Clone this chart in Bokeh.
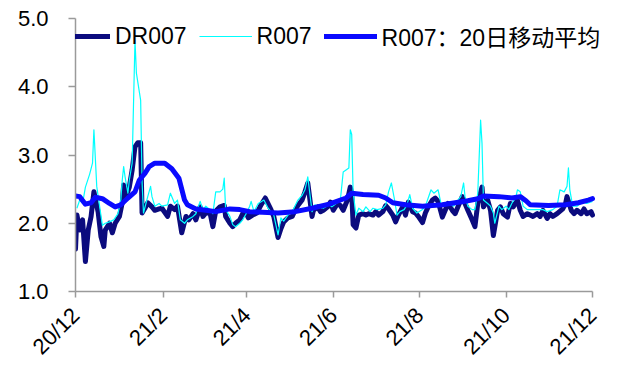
import math
import pandas as pd
from bokeh.plotting import figure
from bokeh.models import (Range1d, FixedTicker, PrintfTickFormatter, Legend,
                          LegendItem)
from bokeh.embed import file_html
from bokeh.resources import INLINE

# DR007 daily rate (%)
dr_dates = [
    "2020-12-01", "2020-12-02", "2020-12-04", "2020-12-06", "2020-12-08", "2020-12-10",
    "2020-12-12", "2020-12-14", "2020-12-17", "2020-12-19", "2020-12-21", "2020-12-22",
    "2020-12-25", "2020-12-27", "2020-12-29", "2021-01-01", "2021-01-03", "2021-01-04",
    "2021-01-05", "2021-01-08", "2021-01-10", "2021-01-12", "2021-01-14", "2021-01-16",
    "2021-01-17", "2021-01-19", "2021-01-21", "2021-01-24", "2021-01-26", "2021-01-29",
    "2021-01-31", "2021-02-04", "2021-02-06", "2021-02-09", "2021-02-11", "2021-02-14",
    "2021-02-17", "2021-02-19", "2021-02-22", "2021-02-24", "2021-02-27", "2021-03-01",
    "2021-03-03", "2021-03-06", "2021-03-08", "2021-03-10", "2021-03-13", "2021-03-16",
    "2021-03-17", "2021-03-20", "2021-03-22", "2021-03-24", "2021-03-27", "2021-03-29",
    "2021-03-31", "2021-04-02", "2021-04-05", "2021-04-08", "2021-04-11", "2021-04-14",
    "2021-04-18", "2021-04-20", "2021-04-23", "2021-04-25", "2021-04-27", "2021-04-30",
    "2021-05-03", "2021-05-05", "2021-05-07", "2021-05-10", "2021-05-12", "2021-05-14",
    "2021-05-17", "2021-05-18", "2021-05-21", "2021-05-23", "2021-05-25", "2021-05-28",
    "2021-05-30", "2021-06-01", "2021-06-04", "2021-06-06", "2021-06-08", "2021-06-11",
    "2021-06-13", "2021-06-14", "2021-06-15", "2021-06-17", "2021-06-19", "2021-06-22",
    "2021-06-24", "2021-06-26", "2021-06-29", "2021-07-01", "2021-07-03", "2021-07-06",
    "2021-07-08", "2021-07-10", "2021-07-13", "2021-07-15", "2021-07-17", "2021-07-20",
    "2021-07-22", "2021-07-24", "2021-07-27", "2021-07-29", "2021-07-31", "2021-08-03",
    "2021-08-05", "2021-08-07", "2021-08-10", "2021-08-12", "2021-08-14", "2021-08-17",
    "2021-08-19", "2021-08-21", "2021-08-24", "2021-08-26", "2021-08-28", "2021-08-31",
    "2021-09-02", "2021-09-04", "2021-09-07", "2021-09-09", "2021-09-11", "2021-09-14",
    "2021-09-15", "2021-09-18", "2021-09-20", "2021-09-22", "2021-09-25", "2021-09-27",
    "2021-09-29", "2021-10-02", "2021-10-04", "2021-10-06", "2021-10-09", "2021-10-11",
    "2021-10-13", "2021-10-16", "2021-10-18", "2021-10-20", "2021-10-23", "2021-10-25",
    "2021-10-27", "2021-10-30", "2021-11-01", "2021-11-03", "2021-11-06", "2021-11-10",
    "2021-11-12", "2021-11-13", "2021-11-16", "2021-11-18", "2021-11-20", "2021-11-23",
    "2021-11-25", "2021-11-27", "2021-11-30", "2021-12-01",
]
dr_vals = [
    1.62, 2.12, 1.90, 2.05, 1.44, 1.90,
    2.10, 2.46, 2.16, 1.80, 1.66, 1.90,
    2.00, 1.86, 2.00, 2.10, 2.30, 2.56,
    2.35, 2.53, 2.78, 3.12, 3.18, 3.18,
    2.15, 2.22, 2.30, 2.24, 2.19, 2.21,
    2.22, 2.10, 2.25, 2.20, 2.25, 1.86,
    2.10, 2.05, 2.14, 2.05, 2.24, 2.10,
    2.15, 2.15, 1.95, 2.18, 2.24, 2.26,
    2.10, 2.00, 1.95, 2.00, 2.05, 2.14,
    2.17, 2.08, 2.12, 2.15, 2.27, 2.37,
    2.20, 2.10, 1.79, 1.92, 2.02, 2.08,
    2.10, 2.19, 2.26, 2.34, 2.46, 2.59,
    2.10, 2.19, 2.24, 2.17, 2.19, 2.24,
    2.31, 2.19, 2.29, 2.26, 2.19, 2.34,
    2.53, 2.45, 1.98, 1.93, 2.12, 2.14,
    2.12, 2.14, 2.12, 2.17, 2.12, 2.17,
    2.26, 2.21, 2.12, 2.02, 2.12, 2.24,
    2.12, 2.31, 2.17, 2.15, 2.10, 2.01,
    2.15, 2.24, 2.34, 2.37, 2.32, 2.09,
    2.19, 2.29, 2.19, 2.14, 2.24, 2.39,
    2.29, 2.19, 2.05, 1.95, 2.29, 2.53,
    2.24, 2.34, 2.19, 1.82, 2.19, 2.24,
    2.14, 2.09, 2.29, 2.24, 2.34, 2.19,
    2.10, 2.14, 2.12, 2.10, 2.14, 2.10,
    2.19, 2.07, 2.14, 2.10, 2.14, 2.21,
    2.29, 2.39, 2.19, 2.14, 2.19, 2.14,
    2.21, 2.14, 2.17, 2.12,
]

# R007 daily rate (%)
r_dates = [
    "2020-12-02", "2020-12-04", "2020-12-06", "2020-12-08", "2020-12-11", "2020-12-13",
    "2020-12-14", "2020-12-16", "2020-12-18", "2020-12-20", "2020-12-22", "2020-12-25",
    "2020-12-28", "2020-12-31", "2021-01-02", "2021-01-03", "2021-01-04", "2021-01-05",
    "2021-01-07", "2021-01-08", "2021-01-10", "2021-01-12", "2021-01-13", "2021-01-16",
    "2021-01-17", "2021-01-18", "2021-01-21", "2021-01-23", "2021-01-24", "2021-01-26",
    "2021-01-29", "2021-01-31", "2021-02-04", "2021-02-06", "2021-02-09", "2021-02-11",
    "2021-02-13", "2021-02-16", "2021-02-18", "2021-02-22", "2021-02-24", "2021-02-27",
    "2021-03-01", "2021-03-03", "2021-03-06", "2021-03-08", "2021-03-10", "2021-03-13",
    "2021-03-15", "2021-03-16", "2021-03-17", "2021-03-20", "2021-03-22", "2021-03-24",
    "2021-03-27", "2021-03-29", "2021-03-31", "2021-04-03", "2021-04-04", "2021-04-06",
    "2021-04-09", "2021-04-13", "2021-04-16", "2021-04-20", "2021-04-23", "2021-04-25",
    "2021-04-27", "2021-04-30", "2021-05-03", "2021-05-07", "2021-05-10", "2021-05-12",
    "2021-05-14", "2021-05-17", "2021-05-19", "2021-05-22", "2021-05-25", "2021-05-29",
    "2021-05-31", "2021-06-03", "2021-06-06", "2021-06-08", "2021-06-10", "2021-06-12",
    "2021-06-13", "2021-06-14", "2021-06-15", "2021-06-17", "2021-06-19", "2021-06-22",
    "2021-06-24", "2021-06-27", "2021-06-29", "2021-07-02", "2021-07-06", "2021-07-08",
    "2021-07-10", "2021-07-12", "2021-07-14", "2021-07-16", "2021-07-18", "2021-07-21",
    "2021-07-23", "2021-07-25", "2021-07-27", "2021-07-30", "2021-08-03", "2021-08-05",
    "2021-08-09", "2021-08-11", "2021-08-14", "2021-08-16", "2021-08-18", "2021-08-21",
    "2021-08-25", "2021-08-28", "2021-08-30", "2021-09-01", "2021-09-02", "2021-09-04",
    "2021-09-07", "2021-09-09", "2021-09-11", "2021-09-13", "2021-09-14", "2021-09-15",
    "2021-09-18", "2021-09-20", "2021-09-22", "2021-09-23", "2021-09-26", "2021-09-28",
    "2021-10-01", "2021-10-03", "2021-10-05", "2021-10-08", "2021-10-09", "2021-10-11",
    "2021-10-13", "2021-10-16", "2021-10-22", "2021-10-27", "2021-10-30", "2021-11-03",
    "2021-11-06", "2021-11-08", "2021-11-11", "2021-11-13", "2021-11-14", "2021-11-15",
    "2021-11-17", "2021-11-20", "2021-11-24", "2021-11-27", "2021-12-01",
]
r_vals = [
    2.22, 2.34, 2.29, 2.53, 2.72, 2.88,
    3.37, 2.54, 2.25, 1.97, 2.00, 2.02,
    2.05, 2.14, 2.34, 2.63, 2.83, 2.68,
    2.44, 2.63, 2.88, 4.68, 4.20, 3.80,
    2.60, 2.15, 2.39, 2.54, 2.39, 2.25,
    2.29, 2.25, 2.27, 2.44, 2.29, 2.34,
    2.05, 2.00, 2.05, 2.10, 2.14, 2.32,
    2.20, 2.25, 2.20, 2.14, 2.46, 2.46,
    2.50, 2.66, 2.20, 2.10, 1.98, 1.95,
    2.00, 2.05, 2.12, 2.25, 2.32, 2.17,
    2.29, 2.34, 2.22, 2.12, 1.83, 2.08,
    2.03, 2.12, 2.17, 2.34, 2.41, 2.49,
    2.68, 2.17, 2.27, 2.24, 2.22, 2.27,
    2.24, 2.29, 2.34, 2.75, 2.78, 2.81,
    3.37, 3.30, 2.46, 2.12, 2.22, 2.17,
    2.24, 2.17, 2.22, 2.20, 2.22, 2.27,
    2.46, 2.59, 2.37, 2.12, 2.17, 2.20,
    2.27, 2.42, 2.22, 2.15, 2.20, 2.25,
    2.49, 2.44, 2.49, 2.29, 2.25, 2.29,
    2.25, 2.34, 2.39, 2.59, 2.39, 2.25,
    2.20, 2.20, 2.44, 3.51, 3.17, 2.34,
    2.29, 2.25, 2.15, 2.00, 2.25, 2.20,
    2.25, 2.20, 2.29, 2.39, 2.49, 2.46,
    2.25, 2.20, 2.20, 2.20, 2.17, 2.20,
    2.25, 2.49, 2.46, 2.54, 2.81, 2.49,
    2.25, 2.25, 2.31, 2.29, 2.32,
]

# R007 20-day moving average (%)
ma_dates = [
    "2020-12-01", "2020-12-04", "2020-12-08", "2020-12-12", "2020-12-15", "2020-12-20",
    "2020-12-25", "2020-12-29", "2021-01-02", "2021-01-07", "2021-01-12", "2021-01-15",
    "2021-01-19", "2021-01-22", "2021-01-26", "2021-02-02", "2021-02-07", "2021-02-12",
    "2021-02-16", "2021-02-18", "2021-02-24", "2021-03-03", "2021-03-10", "2021-03-20",
    "2021-03-27", "2021-04-03", "2021-04-12", "2021-04-23", "2021-05-05", "2021-05-17",
    "2021-05-29", "2021-06-10", "2021-06-14", "2021-06-22", "2021-07-03", "2021-07-08",
    "2021-07-13", "2021-07-22", "2021-08-03", "2021-08-17", "2021-08-26", "2021-09-04",
    "2021-09-11", "2021-09-15", "2021-09-26", "2021-10-05", "2021-10-11", "2021-10-15",
    "2021-10-18", "2021-10-31", "2021-11-12", "2021-11-21", "2021-11-28", "2021-12-01",
]
ma_vals = [
    2.40, 2.39, 2.28, 2.30, 2.38, 2.36,
    2.29, 2.24, 2.27, 2.37, 2.46, 2.63,
    2.73, 2.83, 2.88, 2.88, 2.80, 2.66,
    2.34, 2.27, 2.21, 2.19, 2.17, 2.21,
    2.20, 2.17, 2.16, 2.15, 2.17, 2.22,
    2.28, 2.37, 2.44, 2.42, 2.41, 2.37,
    2.30, 2.27, 2.25, 2.27, 2.30, 2.33,
    2.36, 2.40, 2.39, 2.37, 2.39, 2.33,
    2.27, 2.26, 2.27, 2.30, 2.34, 2.36,
]

# Axis ticks
x_tick_dates = ["2020-12-01", "2021-02-01", "2021-04-01", "2021-06-01",
                "2021-08-01", "2021-10-01", "2021-12-01"]
x_tick_labels = ["20/12", "21/2", "21/4", "21/6", "21/8", "21/10", "21/12"]
y_ticks = [1.0, 2.0, 3.0, 4.0, 5.0]

series_names = ["DR007", "R007", "R007：20日移动平均"]

FONT = "Liberation Sans, Noto Sans CJK SC"

# Page geometry (px): the plotting frame starts at the y axis and runs to
# the right edge so the legend fits; the x axis spans only the dated period.
W, H = 619, 371
AXIS_X0, AXIS_X1 = 75, 592
FRAME_TOP, FRAME_BOTTOM = 18, 79


def to_ms(d):
    return pd.Timestamp(d).value // 10**6


t0, t1 = to_ms(x_tick_dates[0]), to_ms(x_tick_dates[-1])
ms_per_px = (t1 - t0) / (AXIS_X1 - AXIS_X0)
x_end = t1 + (W - AXIS_X1) * ms_per_px

p = figure(
    width=W, height=H,
    x_axis_type="datetime",
    x_range=Range1d(t0, x_end),
    y_range=Range1d(1.0, 5.0),
    output_backend="svg", toolbar_location=None,
    min_border_left=AXIS_X0, min_border_right=0,
    min_border_top=FRAME_TOP, min_border_bottom=FRAME_BOTTOM,
)
p.outline_line_color = None
p.grid.visible = False
p.background_fill_color = "white"
p.border_fill_color = "white"

r_dr = p.line(pd.to_datetime(dr_dates), dr_vals, line_color="#0b0b7e",
              line_width=5, line_join="round", line_cap="round")
r_r = p.line(pd.to_datetime(r_dates), r_vals, line_color="#00ffff",
             line_width=1.2, line_join="round")
r_ma = p.line(pd.to_datetime(ma_dates), ma_vals, line_color="#0a0aff",
              line_width=5, line_join="round", line_cap="round")

# y axis
yax = p.yaxis[0]
yax.ticker = FixedTicker(ticks=y_ticks)
yax.formatter = PrintfTickFormatter(format="%.1f")
yax.minor_tick_line_color = None
yax.major_tick_in = 0
yax.major_tick_out = 7
yax.major_label_standoff = 20
yax.axis_line_color = "#9a9a9a"
yax.axis_line_width = 1.5
yax.major_tick_line_color = "#9a9a9a"
yax.major_tick_line_width = 1.5
yax.major_label_text_font = FONT
yax.major_label_text_font_size = "22px"
yax.major_label_text_color = "black"

# x axis, limited to the dated period
xax = p.xaxis[0]
tick_ms = [to_ms(d) for d in x_tick_dates]
xax.bounds = (t0, t1)
xax.ticker = FixedTicker(ticks=tick_ms)
xax.major_label_overrides = {t: lab for t, lab in zip(tick_ms, x_tick_labels)}
xax.minor_tick_line_color = None
xax.major_tick_in = 0
xax.major_tick_out = 6
xax.major_label_standoff = 14
xax.major_label_orientation = math.pi / 4
xax.axis_line_color = "#9a9a9a"
xax.axis_line_width = 1.5
xax.major_tick_line_color = "#9a9a9a"
xax.major_tick_line_width = 1.5
xax.major_label_text_font = FONT
xax.major_label_text_font_size = "22px"
xax.major_label_text_color = "black"

legend = Legend(
    items=[LegendItem(label=n, renderers=[r])
           for n, r in zip(series_names, [r_dr, r_r, r_ma])],
    orientation="horizontal",
    location=(-18, 238),
    padding=0, margin=0, spacing=12,
    glyph_width=53, glyph_height=24, label_standoff=5,
    label_text_font=FONT, label_text_font_size="23px",
    label_text_color="black",
    background_fill_alpha=0, border_line_color=None,
)
p.add_layout(legend)

open("out.html", "w").write(file_html(p, INLINE))
